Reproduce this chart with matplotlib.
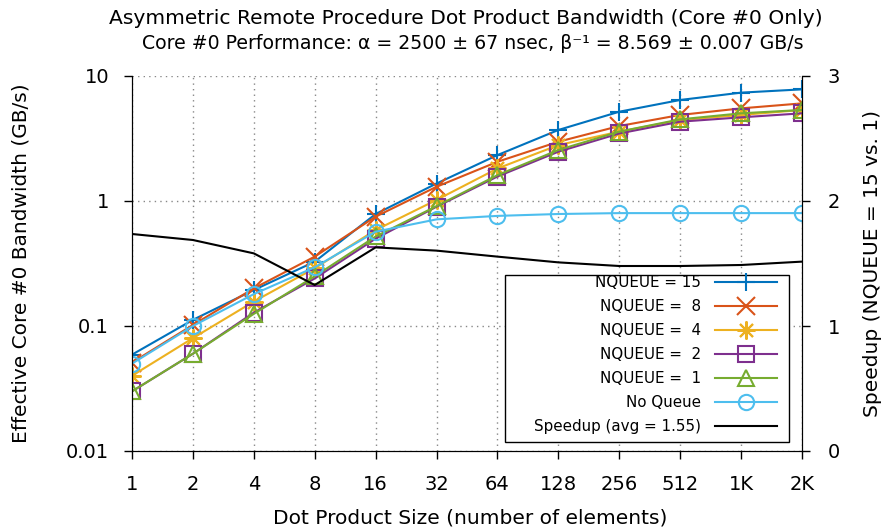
import matplotlib
matplotlib.use("Agg")
import matplotlib.pyplot as plt
from matplotlib.patches import Rectangle
from matplotlib.ticker import FixedLocator, FixedFormatter, NullLocator

sizes = [1, 2, 4, 8, 16, 32, 64, 128, 256, 512, 1024, 2048]
size_labels = ["1", "2", "4", "8", "16", "32", "64", "128", "256", "512", "1K", "2K"]

nq15 = [0.059, 0.112, 0.194, 0.327, 0.787, 1.38, 2.33, 3.70, 5.18, 6.43, 7.36, 7.82]
nq8 = [0.051, 0.102, 0.200, 0.359, 0.750, 1.30, 2.06, 2.98, 3.98, 4.88, 5.51, 6.04]
nq4 = [0.040, 0.080, 0.157, 0.290, 0.586, 1.02, 1.82, 2.80, 3.59, 4.44, 4.88, 5.35]
nq2 = [0.030, 0.060, 0.128, 0.240, 0.500, 0.90, 1.57, 2.48, 3.47, 4.31, 4.67, 5.03]
nq1 = [0.030, 0.060, 0.125, 0.250, 0.520, 0.91, 1.61, 2.56, 3.59, 4.50, 5.03, 5.35]
noqueue = [0.050, 0.100, 0.180, 0.295, 0.568, 0.713, 0.760, 0.787, 0.800, 0.800, 0.800, 0.800]
speedup = [1.736, 1.688, 1.581, 1.328, 1.629, 1.603, 1.555, 1.509, 1.480, 1.480, 1.488, 1.515]

series = [
    ("NQUEUE = 15", nq15, "#0072BD", "+", 13),
    ("NQUEUE =  8", nq8, "#D95319", "x", 13),
    ("NQUEUE =  4", nq4, "#EDB120", (8, 2, 0), 13),
    ("NQUEUE =  2", nq2, "#7E2F8E", "s", 11),
    ("NQUEUE =  1", nq1, "#77AC30", "^", 11),
    ("No Queue", noqueue, "#4DBEEE", "o", 11),
]

W, H = 883, 531
L, R, T, B = 132, 802, 76, 451

fig = plt.figure(figsize=(W / 100, H / 100), dpi=100)
ax = fig.add_axes([L / W, 1 - B / H, (R - L) / W, (B - T) / H])
ax2 = ax.twinx()

handles = []
for label, vals, color, marker, ms in series:
    h, = ax.plot(sizes, vals, color=color, marker=marker, markersize=ms,
                 markerfacecolor="none", markeredgewidth=1.5, linewidth=1.5,
                 label=label)
    handles.append(h)

hs, = ax2.plot(sizes, speedup, color="black", linewidth=1.5,
               label="Speedup (avg = 1.55)")
handles.append(hs)

ax.set_xscale("log", base=2)
ax.set_yscale("log")
ax.set_xlim(1, 2048)
ax.set_ylim(0.01, 10)
ax.xaxis.set_major_locator(FixedLocator(sizes))
ax.xaxis.set_major_formatter(FixedFormatter(size_labels))
ax.xaxis.set_minor_locator(NullLocator())
ax.yaxis.set_major_locator(FixedLocator([0.01, 0.1, 1, 10]))
ax.yaxis.set_major_formatter(FixedFormatter(["0.01", "0.1", "1", "10"]))
ax.yaxis.set_minor_locator(NullLocator())
ax2.set_ylim(0, 3)
ax2.set_yticks([0, 1, 2, 3])
ax2.set_yticklabels(["0", "1", "2", "3"])

ax.grid(True, which="major", color="#888888", linestyle=(0, (1, 3)), linewidth=1)
for a in (ax, ax2):
    a.tick_params(axis="both", labelsize=14, direction="out", length=5.5, width=1)
    a.spines["top"].set_visible(False)
ax.tick_params(axis="x", pad=12)
ax.tick_params(axis="y", pad=11)
ax2.tick_params(axis="y", pad=13)

fig.text(470 / W, 1 - 523 / H, "Dot Product Size (number of elements)",
         ha="center", va="baseline", fontsize=14.5)
fig.text(21.5 / W, 1 - 263 / H, "Effective Core #0 Bandwidth (GB/s)",
         ha="center", va="center", rotation=90, fontsize=14.5)
fig.text(872 / W, 1 - 263 / H, "Speedup (NQUEUE = 15 vs. 1)",
         ha="center", va="center", rotation=90, fontsize=14.5)

fig.text(466 / W, 1 - 24 / H, "Asymmetric Remote Procedure Dot Product Bandwidth (Core #0 Only)",
         ha="center", va="baseline", fontsize=14.6)
fig.text(473 / W, 1 - 49 / H,
         "Core #0 Performance: α = 2500 ± 67 nsec, β⁻¹ = 8.569 ± 0.007 GB/s",
         ha="center", va="baseline", fontsize=13.6)

# legend frame drawn as a rectangle, legend entries placed inside it
bx0, bx1, by0, by1 = 505, 789, 275, 442
ax2.add_patch(Rectangle(((bx0 - L) / (R - L), (B - by1) / (B - T)),
                        (bx1 - bx0) / (R - L), (by1 - by0) / (B - T),
                        transform=ax2.transAxes, facecolor="white",
                        edgecolor="black", linewidth=1, zorder=4))
leg = ax2.legend(handles=handles, loc="upper right",
                 bbox_to_anchor=((777 - L) / (R - L), (B - 275) / (B - T)),
                 borderaxespad=0, borderpad=0, markerfirst=False, fontsize=10.9,
                 handlelength=4.1, handletextpad=0.9, frameon=False,
                 labelspacing=0.6)
leg.set_zorder(5)

fig.savefig("out.png", dpi=100)
